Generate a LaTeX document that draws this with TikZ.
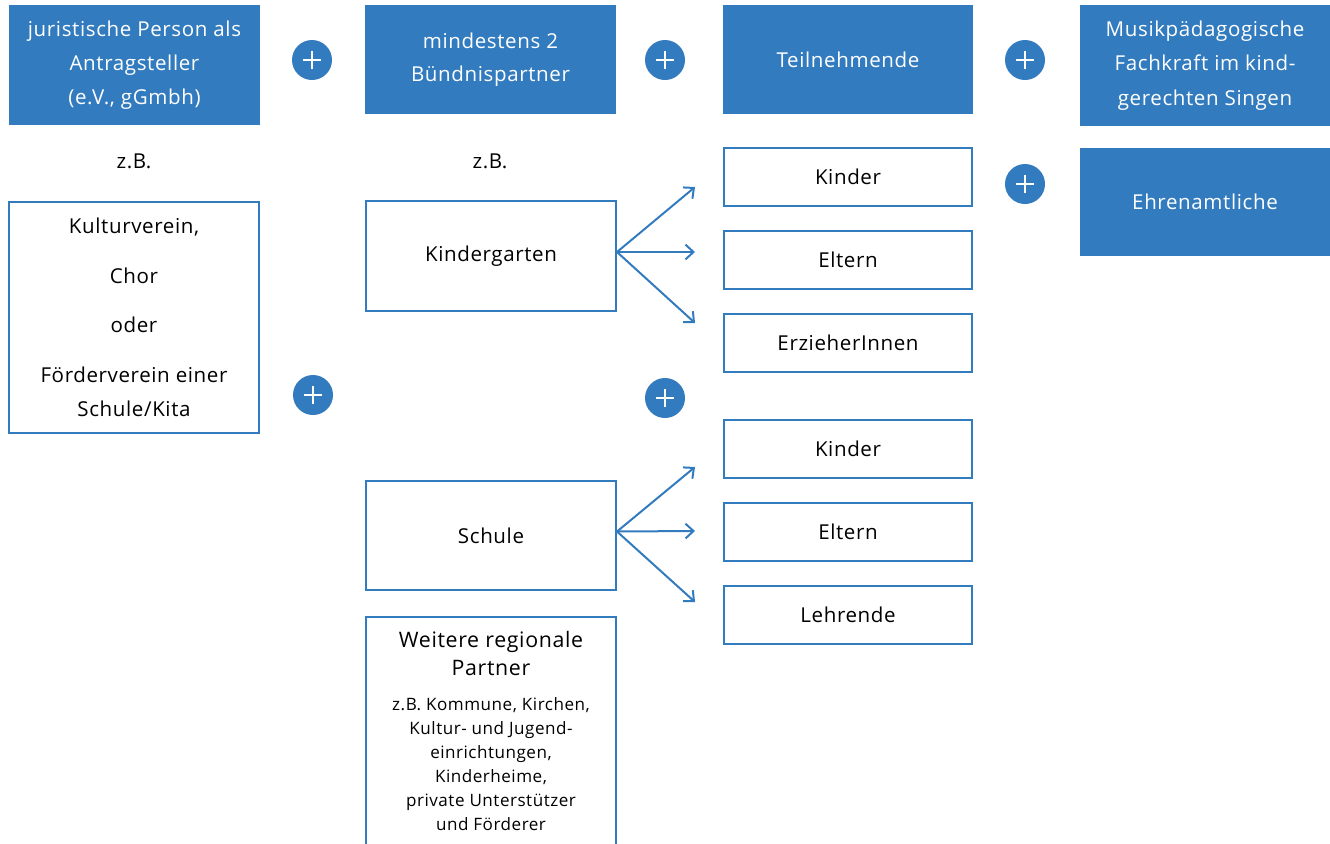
\documentclass[tikz,border=0pt]{standalone}
\usepackage{fontspec}
\setmainfont{Open Sans}[LetterSpace=3]
\usetikzlibrary{arrows.meta}
\definecolor{kblue}{RGB}{50,123,190}
\begin{document}
\begin{tikzpicture}[x=0.75pt,y=-0.75pt,
  txt/.style={font=\fontsize{15.4pt}{25.5pt}\selectfont, align=center, text=black},
  filledbox/.style={fill=kblue, draw=none, txt, text=white, inner sep=0pt},
  outbox/.style={draw=kblue, line width=1.5pt, fill=white, txt, inner sep=0pt},
  plus/.style={circle, fill=kblue, minimum size=30pt, inner sep=0pt},
  conn/.style={draw=kblue, line width=1.5pt, -{Straight Barb[length=6pt,width=11pt,line width=1.5pt]}}
]
\useasboundingbox (0,0) rectangle (1330,843);
% top row
\node[filledbox, minimum width=188.25pt, minimum height=90pt] (b1) at (134.5,65) {juristische Person als\\Antragsteller\\(e.V., gGmbh)};
\node[filledbox, minimum width=188.25pt, minimum height=81.75pt, font=\fontsize{15.4pt}{24.75pt}\selectfont] (b2) at (490.5,59.5) {mindestens 2\\Bündnispartner};
\node[filledbox, minimum width=187.5pt, minimum height=81.75pt] (b3) at (848,59.5) {Teilnehmende};
\node[filledbox, minimum width=187.5pt, minimum height=90.75pt, font=\fontsize{15.4pt}{26pt}\selectfont] (b4) at (1205,65.5) {Musikpädagogische\\Fachkraft im kind-\\gerechten Singen};
% plus signs
\foreach \n/\px/\py in {p1/312/60, p2/665/60, p3/1025/60, p4/1025/184, p5/313/395, p6/665/398}{
  \node[plus] (\n) at (\px,\py) {};
  \draw[white, line width=1.6pt] ([xshift=-7pt]\n.center) -- ([xshift=7pt]\n.center);
  \draw[white, line width=1.6pt] ([yshift=-7pt]\n.center) -- ([yshift=7pt]\n.center);
}
% z.B.
\node[txt] (zb1) at (134,161) {z.B.};
\node[txt] (zb2) at (490,161) {z.B.};
% left column
\node[outbox, minimum width=187.5pt, minimum height=173.25pt] (kult) at (134,317) {Kulturverein,\\[12pt]Chor\\[11.5pt]oder\\[12pt]Förderverein einer\\Schule/Kita};
% partners
\node[outbox, minimum width=187.5pt, minimum height=82.5pt] (kg) at (491,256) {Kindergarten};
\node[outbox, minimum width=187.5pt, minimum height=81.75pt] (sch) at (491,535.5) {Schule};
% participants
\foreach \n/\py/\t in {k1/177/Kinder, e1/260/Eltern, er/343/ErzieherInnen, k2/449/Kinder, e2/532/Eltern, l2/615/Lehrende}{
  \node[outbox, minimum width=186pt, minimum height=43.5pt] (\n) at (848,\py) {\t};
}
\node[filledbox, minimum width=187.5pt, minimum height=81pt] (eh) at (1205,202) {Ehrenamtliche};
% weitere partner (open at bottom)
\coordinate (wl) at (366,850);
\coordinate (wtl) at (366,617);
\coordinate (wtr) at (616,617);
\coordinate (wr) at (616,850);
\draw[kblue, line width=1.5pt] (wl) -- (wtl) -- (wtr) -- (wr);
\node[txt, anchor=north, font=\fontsize{16pt}{21pt}\selectfont] (wt) at (491,627) {Weitere regionale\\Partner};
\node[txt, anchor=north, font=\fontsize{12.8pt}{18pt}\selectfont] (wd) at (491,693) {z.B. Kommune, Kirchen,\\Kultur- und Jugend-\\einrichtungen,\\Kinderheime,\\private Unterstützer\\und Förderer};
% arrows
\coordinate (a1) at (695,187); \coordinate (a2) at (695,252); \coordinate (a3) at (695,323);
\coordinate (c1) at (695,467); \coordinate (c2) at (695,531); \coordinate (c3) at (695,602);
\foreach \t in {a1,a2,a3}{\draw[conn] ([yshift=3pt]kg.east) -- (\t);}
\foreach \t in {c1,c2,c3}{\draw[conn] ([yshift=3pt]sch.east) -- (\t);}
\end{tikzpicture}
\end{document}
